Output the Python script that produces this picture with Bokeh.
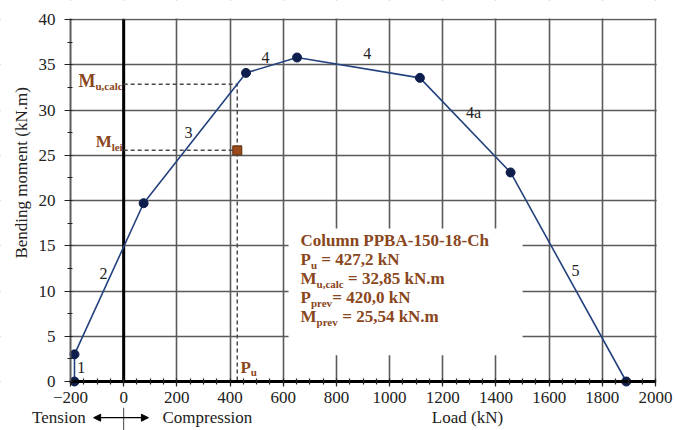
from bokeh.plotting import figure
from bokeh.models import (Range1d, SingleIntervalTicker, Arrow, NormalHead)
from bokeh.core.properties import value
from bokeh.embed import file_html
from bokeh.resources import INLINE

# ---------------- data ----------------
load_kN = [-185, -185, 75, 460, 652, 1114, 1455, 1890]
moment_kNm = [0.0, 3.0, 19.7, 34.1, 35.8, 33.55, 23.1, 0.0]

seg_labels = ["1", "2", "3", "4", "4", "4a", "5"]
seg_x = [-160, -76, 244, 533, 916, 1316, 1699]
seg_y = [1.6, 11.9, 27.5, 35.8, 36.2, 29.7, 12.3]

P_u = 427.2
M_u_calc = 32.85
P_prev = 420.0
M_prev = 25.54

x_min, x_max, x_tick_interval = -200, 2000, 200
y_min, y_max, y_tick_interval = 0, 40, 5

SERIF = "Liberation Serif"
BROWN = "#8a461c"
NAVY = "#24427e"
DOT = "#0f1f4d"
GRID = "#5a5a5a"
NB = "\u00a0"

# Times-Bold character widths (per 1000 em) for offset estimation
TB = {' ': 250, NB: 250, ',': 250, '.': 250, '=': 570, '-': 333, 'A': 722, 'B': 667, 'C': 722,
      'M': 944, 'N': 722, 'P': 611, 'a': 500, 'c': 444, 'e': 444, 'h': 556, 'i': 278,
      'k': 556, 'l': 278, 'm': 833, 'n': 556, 'o': 500, 'p': 556, 'r': 444, 'u': 556, 'v': 500}


def tw(s, size):
    return sum(TB.get(c, 500) for c in s) / 1000.0 * size


W, H = 675, 430
# frame covers the whole canvas; the plotting box sits inside it
px_per_x = 585 / (x_max - x_min)
px_per_y = 362 / (y_max - y_min)
xr = Range1d(x_min - 70 / px_per_x, x_min - 70 / px_per_x + W / px_per_x)
yr = Range1d(y_max + 19 / px_per_y - H / px_per_y, y_max + 19 / px_per_y)

p = figure(width=W, height=H, output_backend="svg", toolbar_location=None,
           x_range=xr, y_range=yr,
           min_border_left=0, min_border_right=0, min_border_top=0, min_border_bottom=0)
p.background_fill_color = "white"
p.border_fill_color = "white"
p.outline_line_color = None

# axes
p.xaxis.ticker = SingleIntervalTicker(interval=x_tick_interval, num_minor_ticks=4)
p.yaxis.ticker = SingleIntervalTicker(interval=y_tick_interval, num_minor_ticks=2)
p.xaxis.fixed_location = y_min
p.yaxis.fixed_location = x_min
p.xaxis.bounds = (x_min, x_max)
p.yaxis.bounds = (y_min, y_max)
for ax in (p.xaxis[0], p.yaxis[0]):
    ax.major_label_text_font = SERIF
    ax.major_label_text_font_size = "17px"
    ax.major_label_text_color = "#222222"
    ax.major_tick_line_color = "#222222"
    ax.minor_tick_line_color = "#222222"
    ax.major_tick_line_width = 1.2
    ax.minor_tick_line_width = 1.2
p.xaxis.axis_line_color = "black"
p.xaxis.axis_line_width = 3
p.xaxis.major_tick_in = 0
p.xaxis.major_tick_out = 5
p.xaxis.minor_tick_in = 3
p.xaxis.minor_tick_out = 3
p.xaxis.major_label_standoff = 5
p.yaxis.axis_line_color = GRID
p.yaxis.axis_line_width = 1.6
p.yaxis.major_tick_in = 0
p.yaxis.major_tick_out = 6
p.yaxis.minor_tick_in = 2
p.yaxis.minor_tick_out = 3
p.yaxis.major_label_standoff = 9
p.yaxis.axis_label = NB * 13 + "Bending moment (kN.m)"
p.yaxis.axis_label_text_font = SERIF
p.yaxis.axis_label_text_font_size = "17px"
p.yaxis.axis_label_text_font_style = "normal"
p.yaxis.axis_label_text_color = "#222222"
p.yaxis.axis_label_standoff = 5

p.xgrid.grid_line_color = GRID
p.ygrid.grid_line_color = GRID
p.xgrid.grid_line_width = 1.6
p.ygrid.grid_line_width = 1.6
p.xgrid.bounds = (x_min, x_max)
p.ygrid.bounds = (y_min, y_max)

# white masks outside the plotting box (hide grid-line overhang)
ex = 1.2 / px_per_x
ey = 1.0 / px_per_y
p.quad(left=[xr.start, x_max + ex, xr.start, xr.start],
       right=[x_min - ex, xr.end, xr.end, xr.end],
       bottom=[yr.start, yr.start, y_max + ey, yr.start],
       top=[yr.end, yr.end, yr.end, y_min],
       fill_color="white", line_color=None)
# white box behind the annotation text (interrupts grid)
p.quad(left=[620], right=[1500], bottom=[2.9], top=[16.9], fill_color="white", line_color=None)

# thick vertical line at zero load
p.segment(x0=[0], y0=[y_min], x1=[0], y1=[y_max], line_color="black", line_width=3)

# dashed guide lines
p.line([0, P_u, P_u], [M_u_calc, M_u_calc, 0], line_color="#4a4a4a", line_width=1.5,
       line_dash="4 3")
p.line([0, P_u], [M_prev, M_prev], line_color="#4a4a4a", line_width=1.5, line_dash="4 3")

# interaction curve
p.line(load_kN, moment_kNm, line_color=NAVY, line_width=1.6)
p.scatter(load_kN, moment_kNm, size=9, fill_color=DOT, line_color=DOT)

# test point
p.scatter([P_u], [M_prev], marker="square", size=9, fill_color="#9a4a1a",
          line_color="#5a2a0a", line_width=1)

# segment labels
p.text(seg_x, seg_y, text=seg_labels, text_font=value(SERIF), text_font_size="16px",
       text_color="#222222", text_align="center", text_baseline="middle")


def sub_label(x, y, main, sub, rest, size, sub_size, align_right=False):
    mw = tw(main, size)
    sw = tw(sub, sub_size)
    x0 = -(mw + sw) - 1 if align_right else 0
    p.text([x], [y], text=[main], x_offset=x0, text_font=value(SERIF), text_font_size=f"{size}px",
           text_font_style="bold", text_color=BROWN, text_align="left", text_baseline="middle")
    p.text([x], [y], text=[sub], x_offset=x0 + mw, y_offset=5, text_font=value(SERIF),
           text_font_size=f"{sub_size}px", text_font_style="bold", text_color=BROWN,
           text_align="left", text_baseline="middle")
    if rest:
        p.text([x], [y], text=[rest], x_offset=x0 + mw + sw, text_font=value(SERIF),
               text_font_size=f"{size}px", text_font_style="bold", text_color=BROWN,
               text_align="left", text_baseline="middle")


def fmt(v, d):
    return f"{v:.{d}f}".replace(".", ",")


# left labels
sub_label(0, 33.2, "M", "u,calc", "", 18, 11, align_right=True)
sub_label(0, 26.5, "M", "lei", "", 17, 11, align_right=True)
# P_u label
sub_label(439, 1.55, "P", "u", "", 17, 11)

# annotation box text
bx = 665
p.text([bx], [15.58], text=["Column PPBA-150-18-Ch"], text_font=value(SERIF),
       text_font_size="17px", text_font_style="bold", text_color=BROWN,
       text_align="left", text_baseline="middle")
sub_label(bx, 13.48, "P", "u", NB + "= " + fmt(P_u, 1) + " kN", 17, 11)
sub_label(bx, 11.38, "M", "u,calc", NB + "= " + fmt(M_u_calc, 2) + " kN.m", 17, 11)
sub_label(bx, 9.28, "P", "prev", "= " + fmt(P_prev, 1) + " kN", 17, 11)
sub_label(bx, 7.18, "M", "prev", NB + "= " + fmt(M_prev, 2) + " kN.m", 17, 11)

# texts below the axis
yb = -4.0
p.text([-143], [yb], text=["Tension"], text_font=value(SERIF), text_font_size="17px",
       text_color="#222222", text_align="right", text_baseline="middle")
p.text([146], [yb], text=["Compression"], text_font=value(SERIF), text_font_size="17px",
       text_color="#222222", text_align="left", text_baseline="middle")
p.text([1293], [yb], text=["Load (kN)"], text_font=value(SERIF), text_font_size="17px",
       text_color="#222222", text_align="center", text_baseline="middle")

p.add_layout(Arrow(x_start=-113, y_start=yb, x_end=93, y_end=yb,
                   start=NormalHead(size=7, fill_color="black", line_color="black"),
                   end=NormalHead(size=7, fill_color="black", line_color="black"),
                   line_color="black", line_width=1.2))
p.segment(x0=[0], y0=[-2.9], x1=[0], y1=[yr.start], line_color="#444444", line_width=1)

open("out.html", "w").write(file_html(p, INLINE))
